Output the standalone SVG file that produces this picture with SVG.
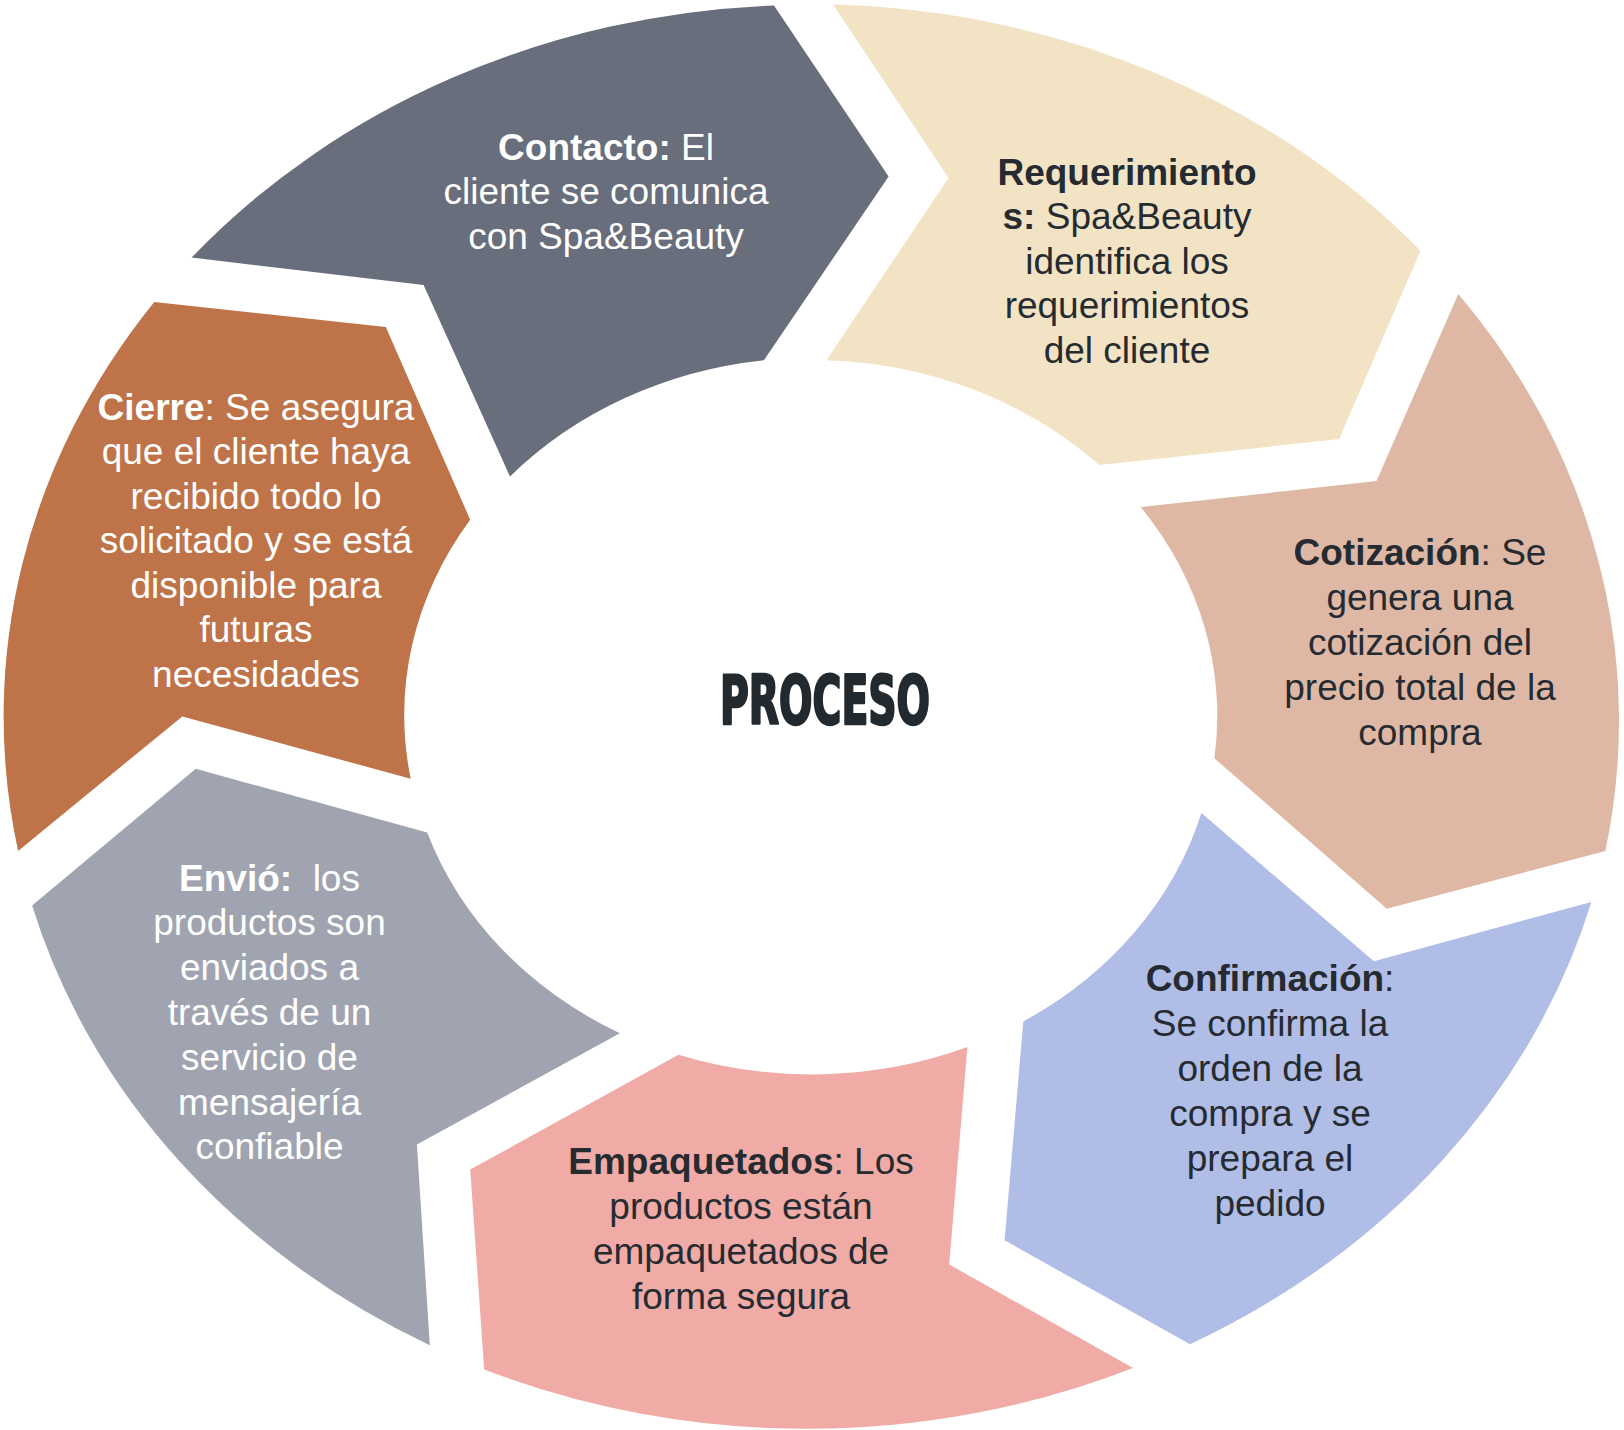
<svg xmlns="http://www.w3.org/2000/svg" width="1624" height="1430" viewBox="0 0 1624 1430">
<style>
.t{font-family:"Liberation Sans",Arial,sans-serif;font-size:37px;text-anchor:middle}
.w{fill:#ffffff}
.d{fill:#252b31}
.b{font-weight:bold}
.title{font-family:"DejaVu Sans Condensed","Liberation Sans Narrow","Liberation Sans",sans-serif;font-weight:bold;font-size:68px;fill:#222a30;stroke:#222a30;stroke-width:2.6;stroke-linejoin:round;text-anchor:middle}
</style>
<rect width="1624" height="1430" fill="#ffffff"/>
<g id="contacto">
<path fill="#686e7b" d="M191.6,257.6 A807,712.5 0 0 1 774,5.5 L888.6,176.5 L763.9,360.2 A406.5,357.7 0 0 0 510,476.5 L423.6,285 Z"/>
<text class="t w" x="606" y="159.5"><tspan class="b">Contacto:</tspan> El</text>
<text class="t w" x="606" y="204">cliente se comunica</text>
<text class="t w" x="606" y="248.5">con Spa&amp;Beauty</text>
</g>
<g id="requerimientos">
<path fill="#f2e3c5" d="M833,4.6 A807,712.5 0 0 1 1420.5,250.8 L1339.2,439.1 L1099.4,465.1 A406.5,357.7 0 0 0 826.5,360.2 L948.5,178 Z"/>
<text class="t d b" x="1127" y="184.5">Requerimiento</text>
<text class="t d" x="1127" y="228.5"><tspan class="b">s:</tspan> Spa&amp;Beauty</text>
<text class="t d" x="1127" y="273.5">identifica los</text>
<text class="t d" x="1127" y="318">requerimientos</text>
<text class="t d" x="1127" y="363">del cliente</text>
</g>
<g id="cotizacion">
<path fill="#dfb8a5" d="M1458.3,294.1 A807,712.5 0 0 1 1605.4,850.9 L1386.8,908.8 L1214.4,758.3 A406.5,357.7 0 0 0 1140.8,507.1 L1376.5,481.1 Z"/>
<text class="t d" x="1420" y="565"><tspan class="b">Cotización</tspan>: Se</text>
<text class="t d" x="1420" y="610">genera una</text>
<text class="t d" x="1420" y="655">cotización del</text>
<text class="t d" x="1420" y="699.5">precio total de la</text>
<text class="t d" x="1420" y="744.5">compra</text>
</g>
<g id="confirmacion">
<path fill="#b0bde6" d="M1591.4,902 A807,712.5 0 0 1 1190,1344.3 L1004.6,1240.3 L1023.3,1021.4 A406.5,357.7 0 0 0 1201.4,813 L1373.9,961.2 Z"/>
<text class="t d" x="1270" y="991"><tspan class="b">Confirmación</tspan>:</text>
<text class="t d" x="1270" y="1036">Se confirma la</text>
<text class="t d" x="1270" y="1081">orden de la</text>
<text class="t d" x="1270" y="1126">compra y se</text>
<text class="t d" x="1270" y="1171">prepara el</text>
<text class="t d" x="1270" y="1215.5">pedido</text>
</g>
<g id="empaquetados">
<path fill="#f0aba7" d="M1133,1368 A807,712.5 0 0 1 484.2,1369.4 L470.2,1169.6 L678.4,1054.7 A406.5,357.7 0 0 0 967.4,1047 L949.2,1264.5 Z"/>
<text class="t d" x="741" y="1174"><tspan class="b">Empaquetados</tspan>: Los</text>
<text class="t d" x="741" y="1219">productos están</text>
<text class="t d" x="741" y="1264">empaquetados de</text>
<text class="t d" x="741" y="1309">forma segura</text>
</g>
<g id="envio">
<path fill="#a0a4b0" d="M429.8,1345.2 A807,712.5 0 0 1 32.1,905.6 L195.8,768.8 L427.2,832.6 A406.5,357.7 0 0 0 619.9,1033.3 L416.9,1144.5 Z"/>
<text class="t w" x="269.5" y="891" style="white-space:pre"><tspan class="b">Envió:</tspan>  los</text>
<text class="t w" x="269.5" y="935">productos son</text>
<text class="t w" x="269.5" y="980">enviados a</text>
<text class="t w" x="269.5" y="1025">través de un</text>
<text class="t w" x="269.5" y="1070">servicio de</text>
<text class="t w" x="269.5" y="1114.5">mensajería</text>
<text class="t w" x="269.5" y="1159">confiable</text>
</g>
<g id="cierre">
<path fill="#bf7349" d="M18.1,850.9 A807,712.5 0 0 1 154.3,301.9 L385.8,327 L470.2,519.8 A406.5,357.7 0 0 0 410.7,778.8 L182.3,716.4 Z"/>
<text class="t w" x="256" y="419.5"><tspan class="b">Cierre</tspan>: Se asegura</text>
<text class="t w" x="256" y="464">que el cliente haya</text>
<text class="t w" x="256" y="508.5">recibido todo lo</text>
<text class="t w" x="256" y="553">solicitado y se está</text>
<text class="t w" x="256" y="597.5">disponible para</text>
<text class="t w" x="256" y="642">futuras</text>
<text class="t w" x="256" y="686.5">necesidades</text>
</g>
<g id="proceso">
<text class="title" x="825" y="724" textLength="210" lengthAdjust="spacingAndGlyphs">PROCESO</text>
</g>
<g id="connectors"></g>
</svg>
